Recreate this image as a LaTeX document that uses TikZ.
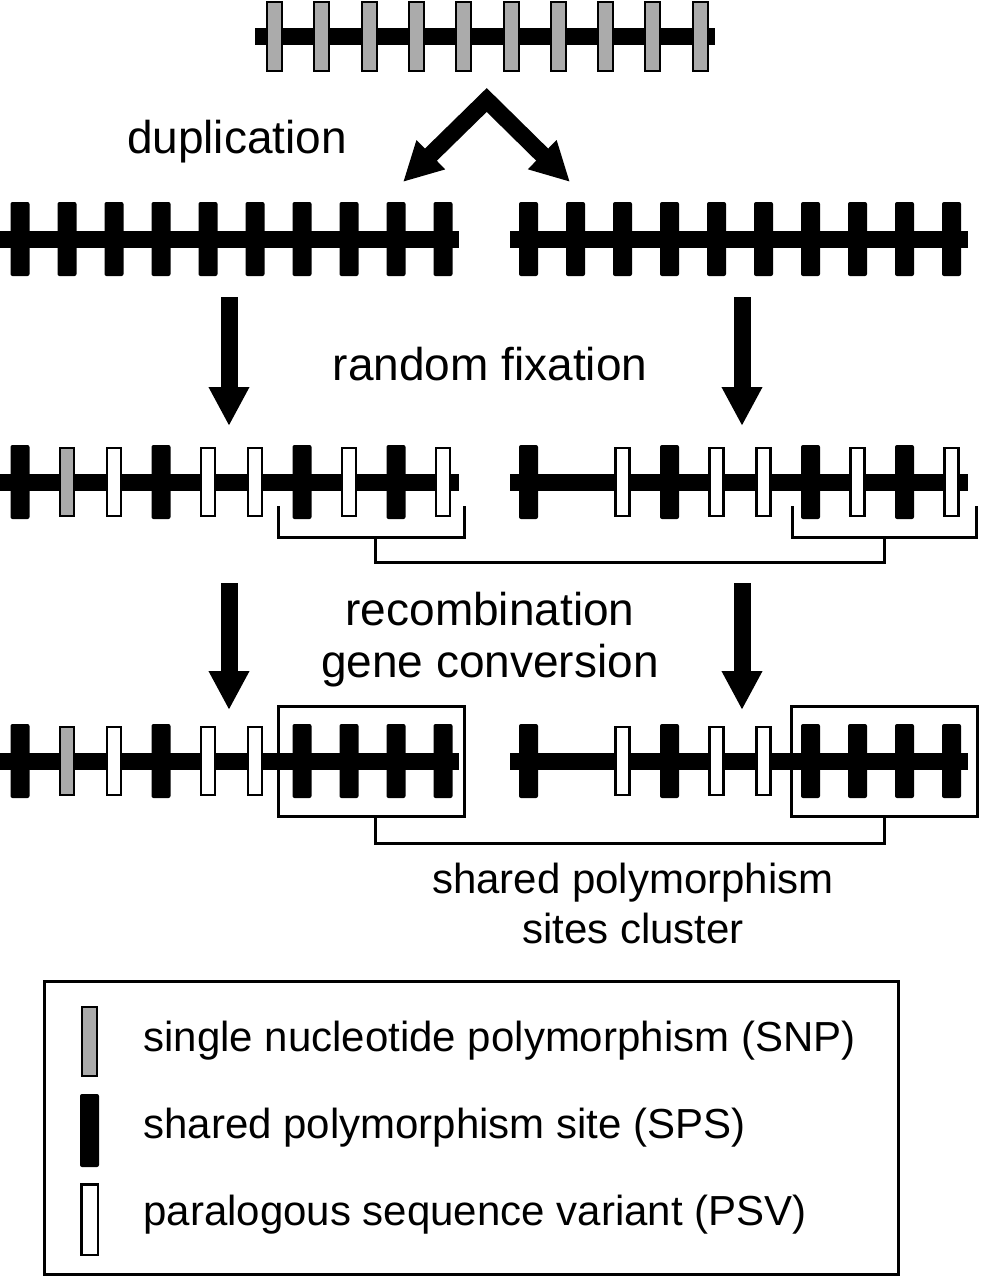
\documentclass[tikz,border=0pt]{standalone}
\usepackage{fontspec}
\setmainfont{Liberation Sans}
\usetikzlibrary{arrows.meta}
\definecolor{snpgray}{gray}{0.67}

\begin{document}
\begin{tikzpicture}[x=1pt, y=-1pt,
    chrom/.style={line width=17pt},
    spsmark/.style={fill=black, rounded corners=2pt},
    psvmark/.style={fill=white, draw=black, line width=2.5pt},
    snpmark/.style={fill=snpgray, draw=black, line width=2pt},
    bigarrow/.style={line width=17pt, line join=miter, -{Triangle[length=39pt, width=38pt]}},
    twinarrow/.style={line width=17pt, line join=miter, {Triangle[length=39pt, width=38pt]}-{Triangle[length=39pt, width=38pt]}},
    bracket/.style={line width=3pt},
    clusterbox/.style={draw, line width=3pt, minimum width=186pt, minimum height=110pt, inner sep=0pt},
    proclabel/.style={font=\fontsize{46}{52}\selectfont, anchor=base},
    legendtext/.style={font=\fontsize{42}{48}\selectfont, anchor=base west}]

    \useasboundingbox (0,0) rectangle (983,1280);

    % Chromosome ancestral avec SNP
    \draw[chrom] (255,36.5) -- (715,36.5);
    \foreach \i in {0,...,9}
        \filldraw[snpmark] ({274.5+47.3*\i-7.5},2) rectangle ++(15,69);

    % Duplication
    \coordinate (dupApex) at (486.7,100);
    \coordinate (dupL) at (403,182);
    \coordinate (dupR) at (570,182);
    \draw[twinarrow] (dupL) -- (dupApex) -- (dupR);
    \node[proclabel] (dup) at (237,153) {duplication};

    % Deux copies identiques
    \draw[chrom] (0,239.5) -- (459,239.5);
    \draw[chrom] (510,239.5) -- (968,239.5);
    \foreach \i in {0,...,9} {
        \fill[spsmark] ({20+47*\i-9.5},202) rectangle ++(19,74);
        \fill[spsmark] ({528.5+47*\i-9.5},202) rectangle ++(19,74);
    }

    % Fixation aléatoire
    \coordinate (fixLtop) at (229,297);
    \coordinate (fixLtip) at (229,426);
    \coordinate (fixRtop) at (742,297);
    \coordinate (fixRtip) at (742,426);
    \draw[bigarrow] (fixLtop) -- (fixLtip);
    \draw[bigarrow] (fixRtop) -- (fixRtip);
    \node[proclabel] (fix) at (490,380) {random fixation};

    % Copies après fixation
    \draw[chrom] (0,482) -- (459,482);
    \draw[chrom] (510,482) -- (968,482);
    \foreach \p in {1,4,7,9} {
        \fill[spsmark] ({20+47*(\p-1)-9.5},445) rectangle ++(19,74);
        \fill[spsmark] ({528.5+47*(\p-1)-9.5},445) rectangle ++(19,74);
    }
    \foreach \p in {3,5,6,8,10} {
        \filldraw[psvmark] ({20+47*(\p-1)-7},448) rectangle ++(14,68);
        \filldraw[psvmark] ({528.5+47*(\p-1)-7},448) rectangle ++(14,68);
    }
    \filldraw[snpmark] ({67-7},448) rectangle ++(14,68);

    % Crochets entre régions homologues
    \draw[bracket] (278.5,506) -- (278.5,537) -- (464.5,537) -- (464.5,506);
    \draw[bracket] (792.5,506) -- (792.5,537) -- (976.5,537) -- (976.5,506);
    \draw[bracket] (375,537) -- (375,562) -- (884,562) -- (884,537);

    % Recombinaison / conversion génique
    \coordinate (recLtop) at (229,583);
    \coordinate (recLtip) at (229,710);
    \coordinate (recRtop) at (742,583);
    \coordinate (recRtip) at (742,710);
    \draw[bigarrow] (recLtop) -- (recLtip);
    \draw[bigarrow] (recRtop) -- (recRtip);
    \node[proclabel] (rec) at (490,625) {recombination};
    \node[proclabel] (conv) at (490,677) {gene conversion};

    % Copies après conversion
    \draw[chrom] (0,761) -- (459,761);
    \draw[chrom] (510,761) -- (968,761);
    \foreach \p in {1,4,7,8,9,10} {
        \fill[spsmark] ({20+47*(\p-1)-9.5},724) rectangle ++(19,74);
        \fill[spsmark] ({528.5+47*(\p-1)-9.5},724) rectangle ++(19,74);
    }
    \foreach \p in {3,5,6} {
        \filldraw[psvmark] ({20+47*(\p-1)-7},727) rectangle ++(14,68);
        \filldraw[psvmark] ({528.5+47*(\p-1)-7},727) rectangle ++(14,68);
    }
    \filldraw[snpmark] ({67-7},727) rectangle ++(14,68);

    % Cluster de sites partagés
    \node[clusterbox] (boxL) at (371.5,761.5) {};
    \node[clusterbox] (boxR) at (884.5,761.5) {};
    \draw[bracket] ([xshift=3.5pt]boxL.south) -- ++(0,25) -| (boxR.south);
    \node[legendtext, anchor=base] (clu1) at (633,893) {shared polymorphism};
    \node[legendtext, anchor=base] (clu2) at (633,943) {sites cluster};

    % Légende
    \draw[line width=3pt] (44.5,981.5) rectangle (898.5,1274.5);
    \filldraw[snpmark] (82,1007) rectangle (97,1076);
    \fill[spsmark] (80,1094) rectangle (99,1167);
    \filldraw[psvmark] (81.25,1184.25) rectangle (97.75,1254.75);
    \node[legendtext] (legSNP) at (140,1051) {single nucleotide polymorphism (SNP)};
    \node[legendtext] (legSPS) at (140,1138) {shared polymorphism site (SPS)};
    \node[legendtext] (legPSV) at (140,1225) {paralogous sequence variant (PSV)};
\end{tikzpicture}
\end{document}
